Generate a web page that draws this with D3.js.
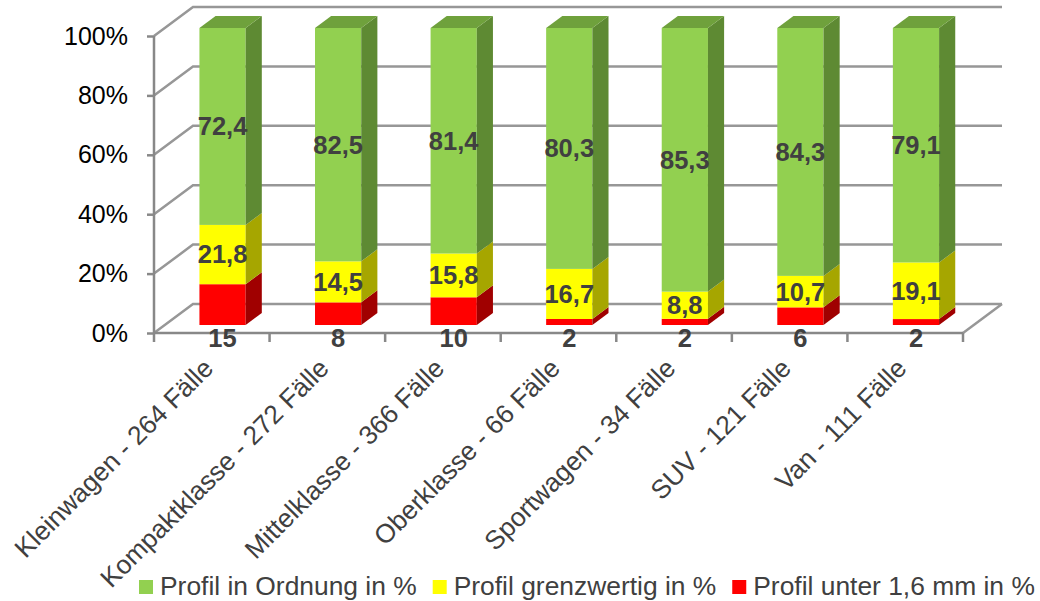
<!DOCTYPE html>
<html>
<head>
<meta charset="utf-8">
<script src="https://cdn.jsdelivr.net/npm/d3@7"></script>
<style>
  body { margin: 0; background: #fff; }
  svg { display: block; font-family: "Liberation Sans", Arial, sans-serif; }
</style>
</head>
<body>
<svg id="chart" width="1040" height="601"></svg>
<script>
// chart data
const categories = ["Kleinwagen - 264 Fälle", "Kompaktklasse - 272 Fälle", "Mittelklasse - 366 Fälle",
    "Oberklasse - 66 Fälle", "Sportwagen - 34 Fälle", "SUV - 121 Fälle", "Van - 111 Fälle"];
const okValues = [72.4, 82.5, 81.4, 80.3, 85.3, 84.3, 79.1];
const borderValues = [21.8, 14.5, 15.8, 16.7, 8.8, 10.7, 19.1];
const lowValues = [15, 8, 10, 2, 2, 6, 2];
const seriesKeys = ["ok", "border", "low"];
const seriesNames = ["Profil in Ordnung in %", "Profil grenzwertig in %", "Profil unter 1,6 mm in %"];
const yTicks = [0, 0.2, 0.4, 0.6, 0.8, 1];

// front face, side, top
const colors = {
    ok: ["#92D050", "#5E8A33", "#6FA13C"],
    border: ["#FFFF00", "#A6A600", "#CCCC00"],
    low: ["#FF0000", "#A00000", "#CC0000"]
};

const plot = { left: 154, right: 963, top: 36, bottom: 333 };
const depth = { dx: 39, dy: -29 };   // offset of the back wall
const barDepth = [0.276, 0.69];      // bars sit between these depth fractions

const svg = d3.select("#chart");

const x = d3.scaleBand().domain(categories).range([plot.left, plot.right])
    .paddingInner(0.6).paddingOuter(0.3);
const y = d3.scaleLinear().domain([0, 1]).range([plot.bottom, plot.top]);
const proj = (px, py, d) => [px + depth.dx * d, py + depth.dy * d];

const rows = categories.map((c, i) => ({ cat: c, ok: okValues[i], border: borderValues[i], low: lowValues[i] }));
const stacked = d3.stack().keys(["low", "border", "ok"]).offset(d3.stackOffsetExpand)(rows);

const gridColor = "#979797";
const axisColor = "#888888";

// back wall gridlines incl. the floor back edge
const grid = svg.append("g");
yTicks.forEach(t => {
    const p1 = proj(plot.left, y(t), 1);
    const p2 = proj(plot.right, y(t), 1);
    grid.append("path")
        .attr("d", `M${plot.left},${y(t)} L${p1[0]},${p1[1]} L${p2[0]},${p2[1]}`)
        .attr("fill", "none").attr("stroke", gridColor).attr("stroke-width", 2.5);
});
const fr = proj(plot.right, y(0), 1);
grid.append("path")
    .attr("d", `M${plot.right},${y(0)} L${fr[0]},${fr[1]}`)
    .attr("fill", "none").attr("stroke", gridColor).attr("stroke-width", 2.5);

// bars
const bw = x.bandwidth();
const bars = svg.append("g");
stacked.forEach((layer, li) => {
    const col = colors[layer.key];
    layer.forEach(d => {
        const x0 = x(d.data.cat);
        const f0 = proj(x0, y(d[0]), barDepth[0]);
        const f1 = proj(x0 + bw, y(d[1]), barDepth[0]);
        const b0 = proj(x0 + bw, y(d[0]), barDepth[1]);
        const b1 = proj(x0 + bw, y(d[1]), barDepth[1]);
        // front
        bars.append("rect")
            .attr("x", f0[0]).attr("y", f1[1])
            .attr("width", f1[0] - f0[0]).attr("height", f0[1] - f1[1])
            .attr("fill", col[0]);
        // side
        bars.append("path")
            .attr("d", `M${f1[0]},${f0[1]} L${b0[0]},${b0[1]} L${b1[0]},${b1[1]} L${f1[0]},${f1[1]} Z`)
            .attr("fill", col[1]);
        if (li === stacked.length - 1) {
            const t0 = proj(x0, y(d[1]), barDepth[1]);
            bars.append("path")
                .attr("d", `M${f0[0]},${f1[1]} L${f1[0]},${f1[1]} L${b1[0]},${b1[1]} L${t0[0]},${t0[1]} Z`)
                .attr("fill", col[2]);
        }
    });
});

// y axis
const yAxis = svg.append("g")
    .attr("transform", `translate(${plot.left},0)`)
    .call(d3.axisLeft(y).tickValues(yTicks).tickFormat(d3.format(".0%"))
        .tickSize(7).tickSizeOuter(0).tickPadding(19));
yAxis.select(".domain").remove();
yAxis.selectAll(".tick line").attr("stroke", axisColor).attr("stroke-width", 2.5);
yAxis.selectAll(".tick text")
    .attr("font-size", 25).attr("font-family", "Liberation Sans, Arial, sans-serif")
    .attr("fill", "#000");

const axis = svg.append("g").attr("stroke", axisColor).attr("stroke-width", 2.5).attr("fill", "none");
axis.append("path").attr("d", `M${plot.left},${y(1)} V${y(0) + 9}`);
axis.append("path").attr("d", `M${plot.left},${y(0)} H${plot.right}`);
d3.range(1, categories.length + 1).forEach(k => {
    const bx = plot.left + k * x.step();
    axis.append("path").attr("d", `M${bx},${y(0)} V${y(0) + 9}`);
});

// category labels
svg.append("g").selectAll("text")
    .data(categories)
    .join("text")
    .attr("transform", c => `translate(${x(c) + bw / 2 + 3},${plot.bottom + 37}) rotate(-45)`)
    .attr("text-anchor", "end")
    .attr("font-size", 26.3)
    .attr("fill", "#404040")
    .text(c => c);

// data labels
const fmt = v => d3.format(".1f")(v).replace(".", ",");
const labels = svg.append("g")
    .attr("font-size", 25.5).attr("font-weight", "bold").attr("fill", "#404040")
    .attr("text-anchor", "middle");
stacked.forEach(layer => {
    layer.forEach(d => {
        const cx = proj(x(d.data.cat) + bw / 2, 0, barDepth[0])[0];
        if (layer.key === "low") {
            const yb = proj(0, y(d[0]), barDepth[0])[1];
            labels.append("text").attr("x", cx).attr("y", yb + 22).text(d.data.low);
        } else {
            const ym = proj(0, y((d[0] + d[1]) / 2), barDepth[0])[1];
            labels.append("text").attr("x", cx).attr("y", ym).attr("dy", "0.35em").text(fmt(d.data[layer.key]));
        }
    });
});

// legend
const legend = svg.append("g").attr("transform", "translate(139,586)");
let lx = 0;
seriesKeys.forEach((k, i) => {
    legend.append("rect").attr("x", lx).attr("y", -6).attr("width", 14).attr("height", 14).attr("fill", colors[k][0]);
    const t = legend.append("text").attr("x", lx + 21).attr("y", 0).attr("dy", "0.35em")
        .attr("font-size", 26.4).attr("fill", "#404040").text(seriesNames[i]);
    lx += 21 + t.node().getComputedTextLength() + 16;
});
</script>
</body>
</html>
